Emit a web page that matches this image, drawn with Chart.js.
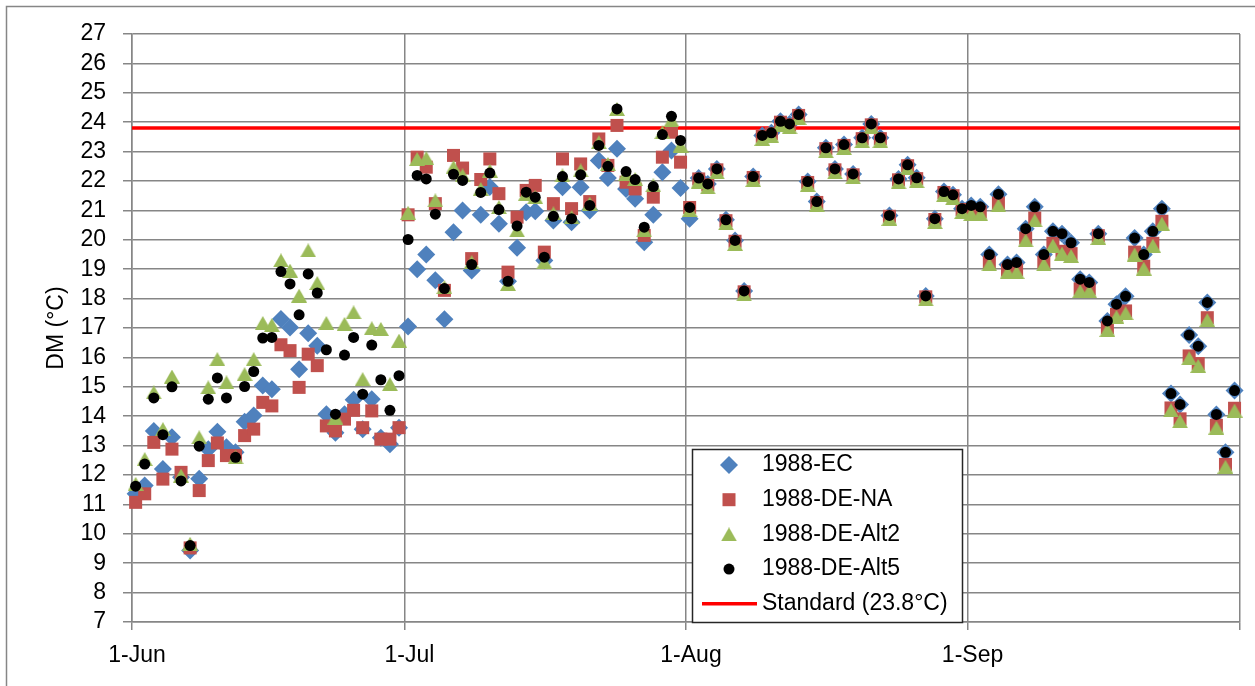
<!DOCTYPE html>
<html>
<head>
<meta charset="utf-8">
<title>DM 1988</title>
<script src="https://cdn.jsdelivr.net/npm/chart.js"></script>
<style>
  html, body { margin: 0; padding: 0; background: #fff; }
  #wrap { width: 1255px; height: 686px; }
</style>
</head>
<body>
<div id="wrap"><canvas id="dmChart" width="1255" height="686"></canvas></div>
<script>
// one value per day, index 0 = 1-Jun-1988 ... index 121 = 30-Sep-1988
const monthStarts = [0, 30, 61, 92, 122];
const monthLabels = ['1-Jun', '1-Jul', '1-Aug', '1-Sep', ''];
const yMin = 7, yMax = 27;
const standardValue = 23.8;

const ec = [
  11.36, 11.64, 13.50, 12.20, 13.28, 11.92, 9.43, 11.87, 12.88, 13.47,
  12.94, 12.77, 13.81, 14.02, 15.04, 14.92, 17.31, 17.02, 15.60, 16.82,
  16.40, 14.07, 13.44, 14.07, 14.56, 13.56, 14.58, 13.27, 13.05, 13.61,
  17.05, 19.00, 19.50, 18.62, 17.30, 20.26, 21.00, 18.96, 20.85, 21.80,
  20.55, 18.59, 19.73, 20.94, 20.97, 19.30, 20.66, 21.79, 20.60, 21.79,
  21.00, 22.70, 22.10, 23.10, 21.73, 21.40, 19.92, 20.85, 22.30, 23.04,
  21.76,
  20.72, 22.10, 21.90, 22.41, 20.68, 19.98, 18.26, 22.15, 23.55, 23.64,
  24.03, 23.94, 24.26, 21.98, 21.30, 23.13, 22.41, 23.24, 22.24, 23.47,
  23.94, 23.47, 20.83, 22.07, 22.55, 22.11, 18.09, 20.72, 21.64, 21.53,
  21.06,
  21.17, 21.12, 19.50, 21.55, 19.16, 19.23, 20.38, 21.12, 19.50, 20.29,
  20.21, 19.90, 18.66, 18.55, 20.21, 17.24, 17.81, 18.08, 20.06, 19.50,
  20.29, 21.06, 14.77, 14.40, 16.76, 16.38, 17.87, 14.06, 12.77, 14.87
];

const deNa = [
  11.07, 11.36, 13.11, 11.86, 12.88, 12.09, 9.52, 11.47, 12.49, 13.09,
  12.66, 12.66, 13.34, 13.56, 14.47, 14.35, 16.43, 16.23, 14.98, 16.11,
  15.72, 13.67, 13.50, 13.90, 14.20, 13.61, 14.18, 13.22, 13.22, 13.61,
  20.85, 22.81, 22.47, 21.23, 18.28, 22.87, 22.44, 19.36, 22.05, 22.75,
  21.57, 18.90, 20.77, 21.68, 21.85, 19.58, 21.23, 22.75, 21.06, 22.58,
  21.30, 23.43, 22.53, 23.89, 21.96, 21.73, 20.15, 21.45, 22.81, 23.66,
  22.64,
  21.10, 22.07, 21.87, 22.38, 20.65, 19.95, 18.23, 22.12, 23.52, 23.61,
  24.00, 23.91, 24.23, 21.95, 21.27, 23.10, 22.38, 23.21, 22.21, 23.44,
  23.91, 23.44, 20.80, 22.04, 22.52, 22.08, 18.06, 20.69, 21.61, 21.50,
  21.03,
  20.95, 20.95, 19.24, 21.25, 18.97, 18.98, 20.06, 20.74, 19.24, 19.88,
  19.61, 19.53, 18.33, 18.33, 20.14, 17.01, 17.46, 17.58, 19.58, 19.10,
  19.88, 20.63, 14.28, 13.91, 16.05, 15.79, 17.35, 13.69, 12.36, 14.27
];

const deAlt2 = [
  11.70, 12.54, 14.81, 13.56, 15.35, 11.98, 9.66, 13.28, 14.98, 15.94,
  15.15, 12.60, 15.43, 15.94, 17.17, 17.10, 19.30, 18.95, 18.10, 19.64,
  18.53, 17.17, 13.95, 17.14, 17.53, 15.26, 16.99, 16.97, 15.09, 16.57,
  20.92, 22.75, 22.78, 21.34, 18.39, 22.47, 22.19, 19.24, 21.73, 22.35,
  21.11, 18.50, 20.32, 21.57, 21.45, 19.24, 20.90, 22.19, 20.77, 22.36,
  21.23, 23.32, 22.58, 24.45, 22.24, 22.07, 20.32, 21.85, 23.66, 24.06,
  23.20,
  21.00, 21.98, 21.78, 22.29, 20.56, 19.86, 18.14, 22.03, 23.43, 23.52,
  23.91, 23.82, 24.14, 21.86, 21.18, 23.01, 22.29, 23.12, 22.12, 23.35,
  23.82, 23.35, 20.71, 21.95, 22.43, 21.99, 17.97, 20.60, 21.52, 21.41,
  20.94,
  20.87, 20.87, 19.16, 21.17, 18.89, 18.90, 19.98, 20.66, 19.16, 19.80,
  19.53, 19.45, 18.25, 18.25, 20.06, 16.93, 17.38, 17.50, 19.50, 19.02,
  19.80, 20.55, 14.20, 13.83, 15.97, 15.71, 17.27, 13.61, 12.28, 14.19
];

const deAlt5 = [
  11.62, 12.37, 14.62, 13.37, 15.00, 11.80, 9.60, 12.98, 14.58, 15.30,
  14.62, 12.60, 15.01, 15.52, 16.66, 16.68, 18.92, 18.50, 17.45, 18.84,
  18.19, 16.26, 14.07, 16.08, 16.68, 14.75, 16.42, 15.24, 14.20, 15.38,
  20.01, 22.19, 22.07, 20.87, 18.34, 22.23, 22.02, 19.16, 21.61, 22.27,
  21.03, 18.59, 20.47, 21.62, 21.45, 19.41, 20.80, 22.15, 20.72, 22.21,
  21.17, 23.21, 22.50, 24.45, 22.32, 22.05, 20.43, 21.81, 23.58, 24.20,
  23.38,
  21.10, 22.10, 21.90, 22.41, 20.68, 19.98, 18.26, 22.15, 23.55, 23.64,
  24.03, 23.94, 24.26, 21.98, 21.30, 23.13, 22.41, 23.24, 22.24, 23.47,
  23.94, 23.47, 20.83, 22.07, 22.55, 22.11, 18.09, 20.72, 21.64, 21.53,
  21.06,
  21.17, 21.12, 19.50, 21.55, 19.16, 19.23, 20.38, 21.12, 19.50, 20.29,
  20.21, 19.90, 18.66, 18.55, 20.21, 17.24, 17.81, 18.08, 20.06, 19.50,
  20.29, 21.06, 14.77, 14.40, 16.76, 16.38, 17.87, 14.06, 12.77, 14.87
];

// excel puts each day's marker a bit past the tick of its date
const dayShift = 0.4;
const xMin = monthStarts[0] - dayShift;
const xMax = monthStarts[monthStarts.length - 1] - dayShift;

// narrow font like the original, falls back to normal sans a bit smaller
function pickFont() {
  const g = document.createElement('canvas').getContext('2d');
  g.font = '40px monospace';
  const ref = g.measureText('1988-DE-Alt2 Standard').width;
  g.font = '40px "Liberation Sans Narrow", monospace';
  const w = g.measureText('1988-DE-Alt2 Standard').width;
  if (Math.abs(w - ref) > 1) return { family: '"Liberation Sans Narrow", "Arial Narrow", sans-serif', size: 27 };
  return { family: '"Liberation Sans", Arial, sans-serif', size: 23 };
}
const baseFont = pickFont();

// triangle centred on its bounding box (like excel), not on its circumcentre
function triangleMarker(w, h, color) {
  const c = document.createElement('canvas');
  c.width = w;
  c.height = h;
  const g = c.getContext('2d');
  g.fillStyle = color;
  g.beginPath();
  g.moveTo(w / 2, 0);
  g.lineTo(w, h);
  g.lineTo(0, h);
  g.closePath();
  g.fill();
  return c;
}

const toPoints = arr => arr.map((v, i) => ({ x: i, y: v }));

const series = [
  { label: '1988-EC', data: ec, color: '#4F81BD', style: 'rectRot', radius: 9 },
  { label: '1988-DE-NA', data: deNa, color: '#C0504D', style: 'rect', radius: 9.2 },
  { label: '1988-DE-Alt2', data: deAlt2, color: '#9BBB59', style: triangleMarker(16, 14, '#9BBB59'), radius: 8 },
  { label: '1988-DE-Alt5', data: deAlt5, color: '#000000', style: 'circle', radius: 5.5 }
];

const datasets = series.map((s, i) => ({
  label: s.label,
  data: toPoints(s.data),
  showLine: false,
  pointStyle: s.style,
  pointRadius: s.radius,
  pointBackgroundColor: s.color,
  pointBorderWidth: 0,
  pointBorderColor: s.color,
  clip: false,
  order: 4 - i   // last series on top
}));

datasets.push({
  label: 'Standard (23.8°C)',
  data: [{ x: xMin, y: standardValue }, { x: xMax, y: standardValue }],
  showLine: true,
  borderColor: '#FF0000',
  borderWidth: 3.5,
  pointRadius: 0,
  order: 10
});

const gridGrey = '#868686';

// white background + the thin frame of the chart object
const framePlugin = {
  id: 'frame',
  beforeDraw(chart) {
    const ctx = chart.ctx;
    ctx.save();
    ctx.fillStyle = '#fff';
    ctx.fillRect(0, 0, chart.width, chart.height);
    ctx.strokeStyle = gridGrey;
    ctx.lineWidth = 1.5;
    ctx.beginPath();
    ctx.moveTo(6.5, chart.height);
    ctx.lineTo(6.5, 6.5);
    ctx.lineTo(chart.width, 6.5);
    ctx.stroke();
    ctx.restore();
  }
};

// boxed legend sitting inside the plot, lower middle
const boxLegend = {
  id: 'boxLegend',
  afterDraw(chart) {
    const ctx = chart.ctx;
    const bx = 692, by = 449, bw = 270, bh = 173;
    ctx.save();
    ctx.fillStyle = '#fff';
    ctx.fillRect(bx, by, bw, bh);
    ctx.strokeStyle = '#262626';
    ctx.lineWidth = 1.5;
    ctx.strokeRect(bx + 0.5, by + 0.5, bw, bh);

    const rowY = i => 465 + i * 34.7;
    const markX = 729;
    series.forEach((s, i) => {
      ctx.fillStyle = s.color;
      Chart.helpers.drawPoint(ctx, { pointStyle: s.style, radius: s.radius, rotation: 0, borderWidth: 0 }, markX, rowY(i));
    });
    const ly = rowY(4);
    ctx.strokeStyle = '#FF0000';
    ctx.lineWidth = 3.5;
    ctx.beginPath();
    ctx.moveTo(702, ly);
    ctx.lineTo(757, ly);
    ctx.stroke();

    ctx.fillStyle = '#000';
    ctx.font = baseFont.size + 'px ' + baseFont.family;
    ctx.textBaseline = 'middle';
    ctx.textAlign = 'left';
    series.forEach((s, i) => ctx.fillText(s.label, 762, rowY(i)));
    ctx.fillText('Standard (23.8°C)', 762, ly);
    ctx.restore();
  }
};

new Chart(document.getElementById('dmChart'), {
  type: 'scatter',
  data: { datasets: datasets },
  options: {
    responsive: false,
    animation: false,
    events: [],
    layout: { padding: { left: 8, right: 15, top: 34, bottom: 0 } },
    plugins: {
      legend: { display: false },
      tooltip: { enabled: false }
    },
    scales: {
      x: {
        type: 'linear',
        min: xMin,
        max: xMax,
        afterBuildTicks: scale => {
          scale.ticks = monthStarts.map(d => ({ value: d - dayShift }));
        },
        afterFit: scale => { scale.height = 64; },
        ticks: {
          autoSkip: false,
          maxRotation: 0,
          padding: 12,
          labelOffset: 5,
          color: '#000',
          font: { family: baseFont.family, size: baseFont.size },
          callback: (value, index) => monthLabels[index]
        },
        grid: { color: gridGrey, lineWidth: 1.5, tickLength: 8, tickColor: gridGrey },
        border: { color: gridGrey, width: 1.5 }
      },
      y: {
        min: yMin,
        max: yMax,
        afterFit: scale => { scale.width = 124; },
        ticks: {
          stepSize: 1,
          autoSkip: false,
          padding: 17,
          color: '#000',
          font: { family: baseFont.family, size: baseFont.size }
        },
        grid: { color: gridGrey, lineWidth: 1.5, tickLength: 9, tickColor: gridGrey },
        border: { color: gridGrey, width: 1.5 },
        title: {
          display: true,
          text: 'DM (°C)',
          color: '#000',
          padding: { top: 35, bottom: 0 },
          font: { family: baseFont.family, size: baseFont.size }
        }
      }
    }
  },
  plugins: [framePlugin, boxLegend]
});
</script>
</body>
</html>
